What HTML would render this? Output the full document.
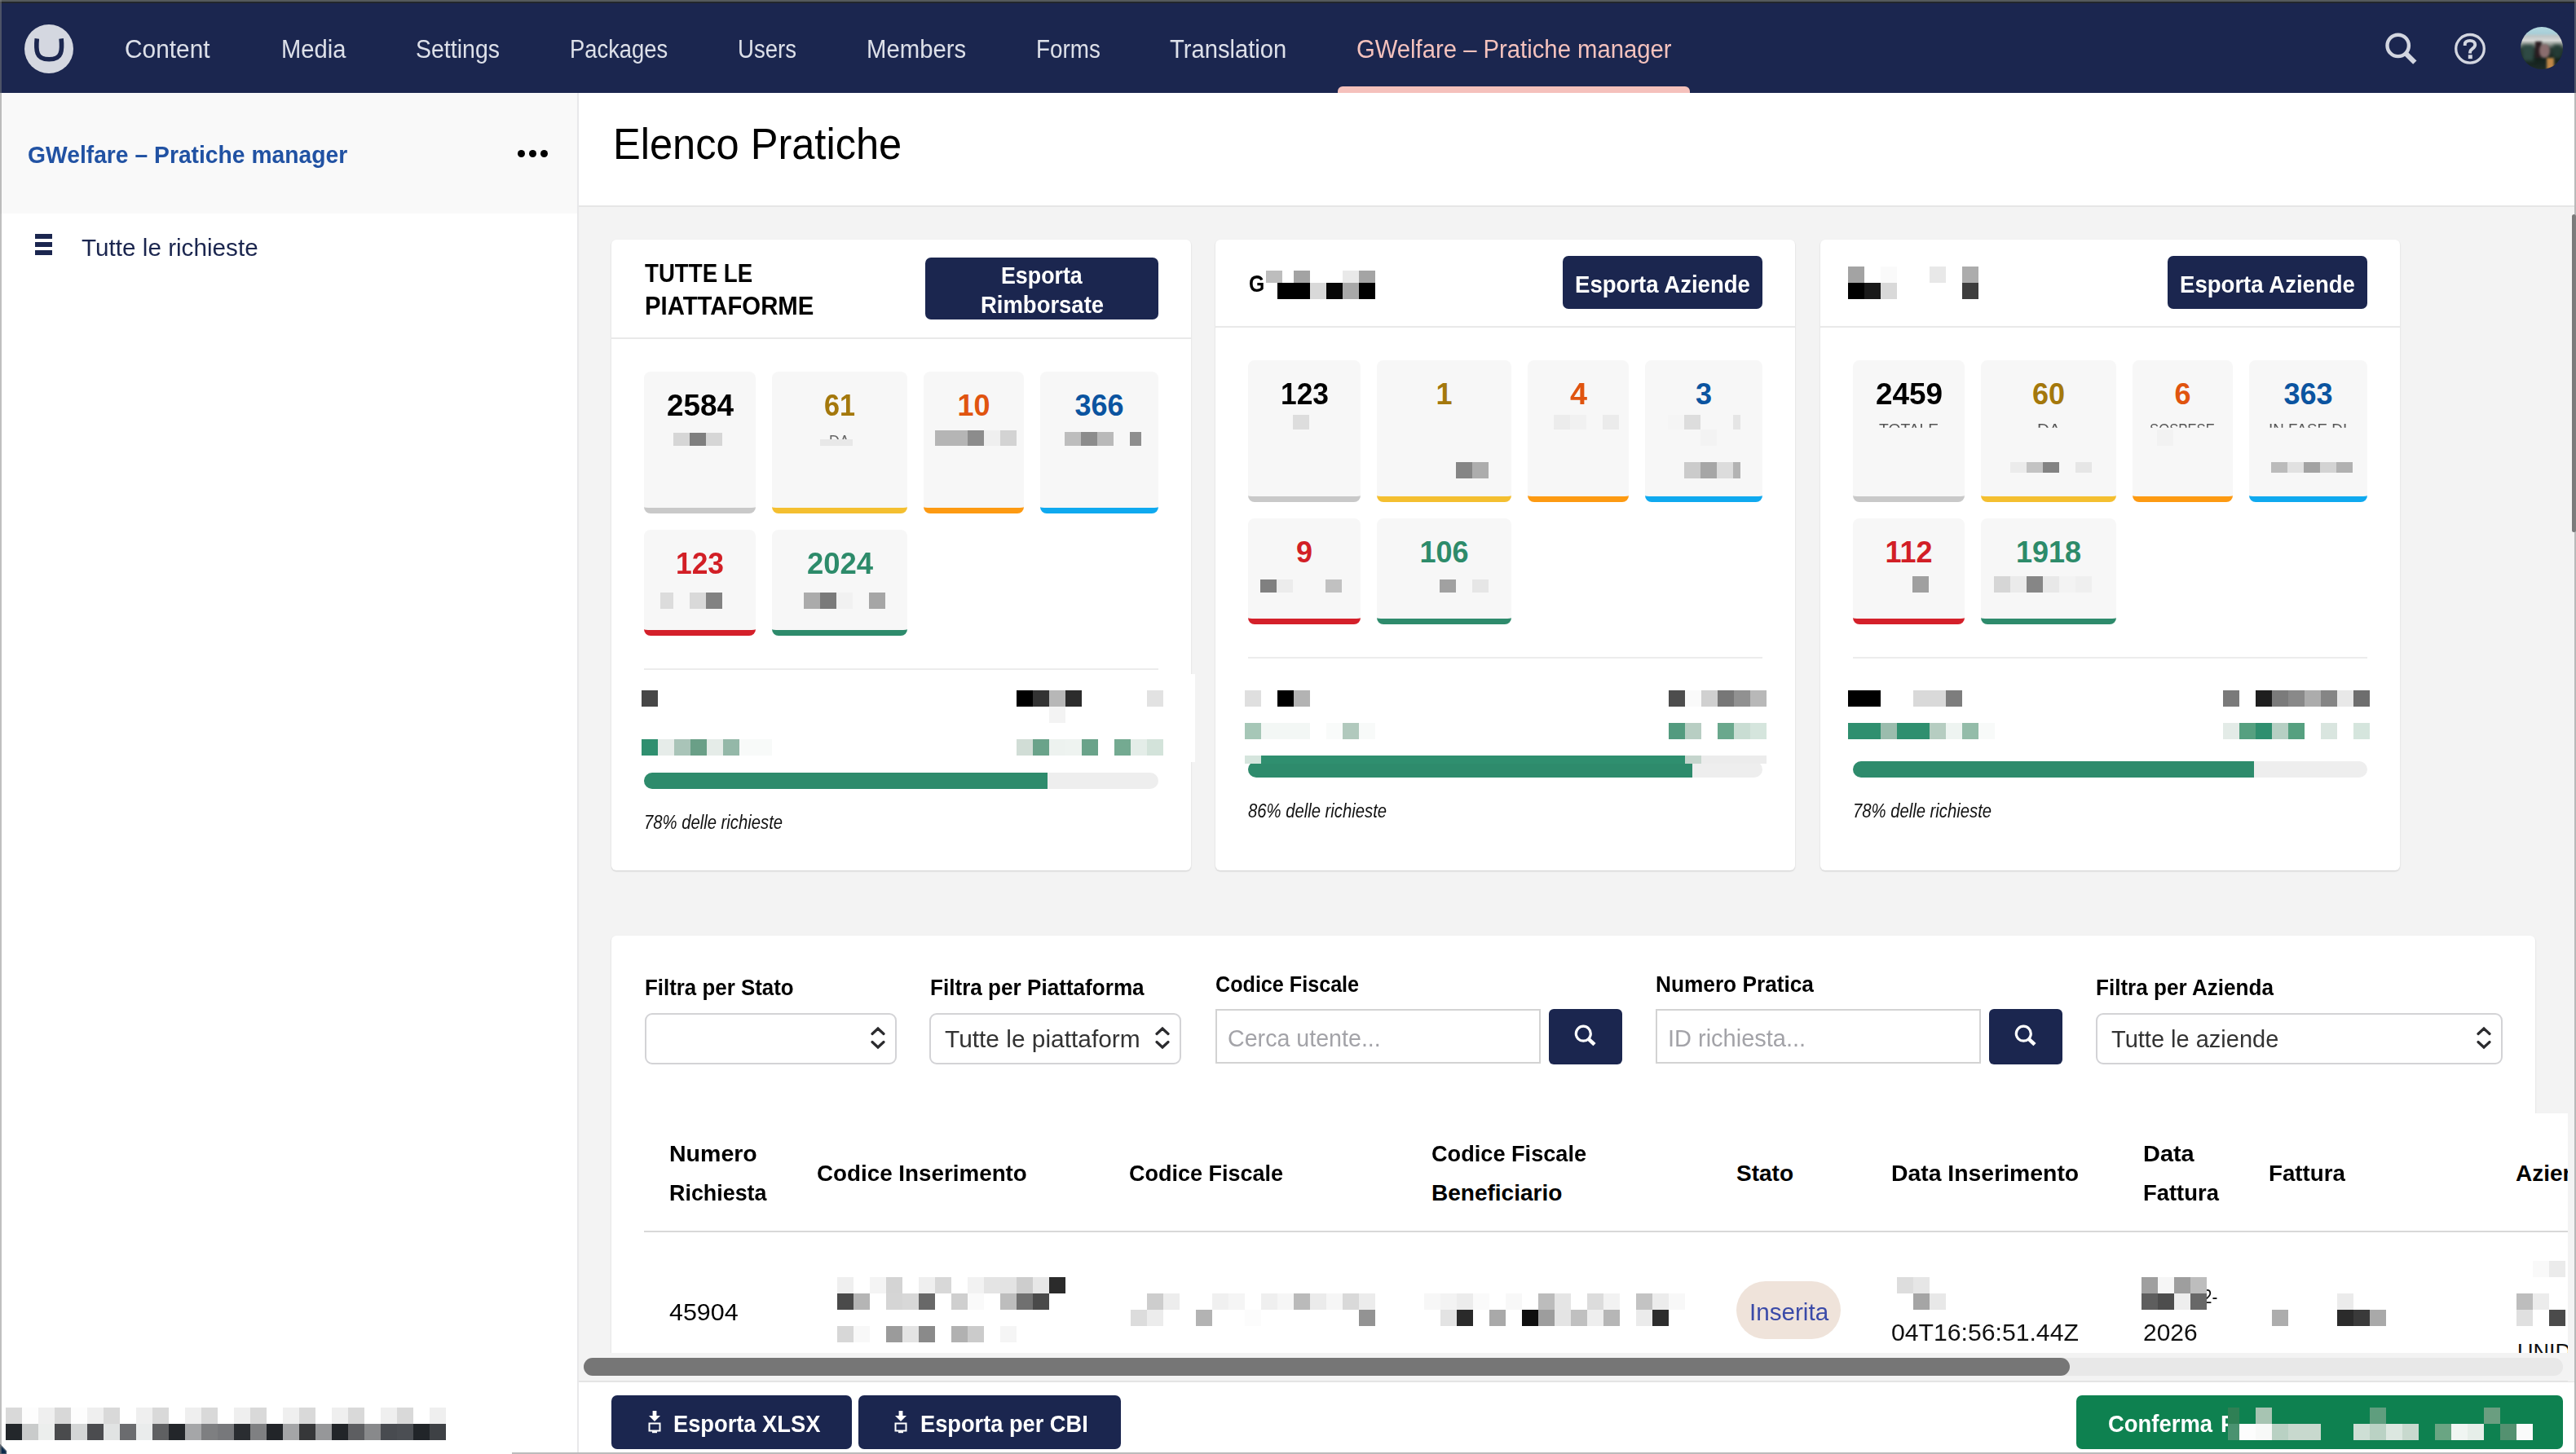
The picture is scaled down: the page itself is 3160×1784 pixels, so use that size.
<!DOCTYPE html>
<html><head><meta charset="utf-8"><title>Elenco Pratiche</title>
<style>
html,body{margin:0;padding:0;}
body{width:3160px;height:1784px;position:relative;overflow:hidden;background:#fff;font-family:"Liberation Sans", sans-serif;}
.a{position:absolute;}
.tx{white-space:nowrap;transform-origin:0 0;}
svg{display:block;}
</style></head><body>
<div class="a" style="left:0px;top:0px;width:3160px;height:114px;background:#1b264f;"></div>
<div class="a" style="left:0px;top:0px;width:3160px;height:2px;background:#555a5c;"></div>
<div class="a" style="left:0px;top:2px;width:3160px;height:2px;background:#23272c;"></div>
<div class="a" style="left:0px;top:114px;width:708px;height:1670px;background:#ffffff;"></div>
<div class="a" style="left:0px;top:114px;width:708px;height:148px;background:#f9f9f9;"></div>
<div class="a" style="left:708px;top:114px;width:2px;height:1670px;background:#e8e8ea;"></div>
<div class="a" style="left:710px;top:114px;width:2448px;height:138px;background:#ffffff;"></div>
<div class="a" style="left:710px;top:252px;width:2448px;height:2px;background:#e6e6e6;"></div>
<div class="a" style="left:710px;top:254px;width:2448px;height:1441px;background:#f3f3f3;"></div>
<div class="a" style="left:710px;top:1694px;width:2448px;height:2px;background:#e4e4e4;"></div>
<div class="a" style="left:710px;top:1696px;width:2448px;height:88px;background:#ffffff;"></div>
<svg class="a" style="left:30px;top:30px" width="60" height="60" viewBox="0 0 60 60"><circle cx="30" cy="30" r="30" fill="#d4d7e0"/><path d="M15.3 17.4 C14.6 24 14.4 31 16.2 35.6 C18 40.6 22.6 42.8 30.2 42.8 C37.8 42.8 42.4 40.6 44.2 35.6 C46 31 45.8 24 45.1 17.4" fill="none" stroke="#1b264f" stroke-width="5.6" stroke-linecap="butt"/></svg>
<span id="t1" class="a tx" style="left:153.0px;top:44.8px;font-size:31px;line-height:31px;font-weight:400;color:#dde0e9;transform:scaleX(0.9633);">Content</span>
<span id="t2" class="a tx" style="left:345.0px;top:44.8px;font-size:31px;line-height:31px;font-weight:400;color:#dde0e9;transform:scaleX(0.9405);">Media</span>
<span id="t3" class="a tx" style="left:510.0px;top:44.8px;font-size:31px;line-height:31px;font-weight:400;color:#dde0e9;transform:scaleX(0.9196);">Settings</span>
<span id="t4" class="a tx" style="left:699.0px;top:44.8px;font-size:31px;line-height:31px;font-weight:400;color:#dde0e9;transform:scaleX(0.8824);">Packages</span>
<span id="t5" class="a tx" style="left:905.0px;top:44.8px;font-size:31px;line-height:31px;font-weight:400;color:#dde0e9;transform:scaleX(0.8889);">Users</span>
<span id="t6" class="a tx" style="left:1063.0px;top:44.8px;font-size:31px;line-height:31px;font-weight:400;color:#dde0e9;transform:scaleX(0.9457);">Members</span>
<span id="t7" class="a tx" style="left:1271.0px;top:44.8px;font-size:31px;line-height:31px;font-weight:400;color:#dde0e9;transform:scaleX(0.8977);">Forms</span>
<span id="t8" class="a tx" style="left:1435.0px;top:44.8px;font-size:31px;line-height:31px;font-weight:400;color:#dde0e9;transform:scaleX(0.9408);">Translation</span>
<span id="t9" class="a tx" style="left:1664.0px;top:44.8px;font-size:31px;line-height:31px;font-weight:400;color:#f5c2bd;transform:scaleX(0.9439);">GWelfare – Pratiche manager</span>
<div class="a" style="left:1641px;top:106px;width:432px;height:8px;background:#f5c1bc;border-radius:6px 6px 0 0;"></div>
<svg class="a" style="left:2920px;top:36px" width="52" height="50" viewBox="0 0 52 50"><circle cx="21.7" cy="19.9" r="13.2" fill="none" stroke="#d3d6e0" stroke-width="4.4"/><path d="M30.2 28.6 L42.3 40.6" stroke="#d3d6e0" stroke-width="6.2" stroke-linecap="butt" stroke-linejoin="round"/></svg>
<svg class="a" style="left:3008px;top:38px" width="44" height="44" viewBox="0 0 44 44"><circle cx="22" cy="21.8" r="17.3" fill="none" stroke="#d3d6e0" stroke-width="3.3"/><path d="M15.75 18 L15.75 16.5 C15.75 13.5 18.2 11.85 22 11.85 C25.8 11.85 28.25 14 28.25 16.8 C28.25 19.6 26.4 20.8 24.6 22.1 C22.9 23.3 22.05 24.3 22.05 26 L22.05 27.4" fill="none" stroke="#d3d6e0" stroke-width="3.9"/><rect x="19.8" y="29.3" width="5" height="4.8" fill="#d3d6e0"/></svg>
<div class="a" style="left:3092px;top:33px;width:52px;height:52px;border-radius:50%;overflow:hidden;background:linear-gradient(180deg,#b3d8e0 0%,#a9cfd8 15%,#bfc6c6 22%,#d6d7d5 32%,#8d958f 42%,#2a3a35 52%,#13211c 75%,#1e2b27 100%)"><div style="position:absolute;left:2px;top:22px;width:14px;height:20px;background:#2f4a44;filter:blur(2px)"></div><div style="position:absolute;left:18px;top:18px;width:8px;height:20px;background:#2a1c20;filter:blur(1.5px)"></div><div style="position:absolute;left:23px;top:21px;width:13px;height:17px;border-radius:45%;background:#8a6d6e;filter:blur(1.5px)"></div><div style="position:absolute;left:40px;top:22px;width:10px;height:16px;background:#243c36;filter:blur(2px)"></div><div style="position:absolute;left:32px;top:38px;width:9px;height:15px;background:#c08848;filter:blur(1.5px)"></div></div>
<span id="t10" class="a tx" style="left:34.0px;top:174.6px;font-size:30px;line-height:30px;font-weight:700;color:#2152a3;transform:scaleX(0.9423);">GWelfare – Pratiche manager</span>
<div class="a" style="left:634.5px;top:184.2px;width:9px;height:9px;border-radius:50%;background:#000"></div>
<div class="a" style="left:648.5px;top:184.2px;width:9px;height:9px;border-radius:50%;background:#000"></div>
<div class="a" style="left:662.5px;top:184.2px;width:9px;height:9px;border-radius:50%;background:#000"></div>
<div class="a" style="left:43px;top:287px;width:21px;height:6px;background:#1b264f;"></div>
<div class="a" style="left:43px;top:297px;width:21px;height:6px;background:#1b264f;"></div>
<div class="a" style="left:43px;top:307px;width:21px;height:6px;background:#1b264f;"></div>
<span id="t11" class="a tx" style="left:100.0px;top:289.5px;font-size:29px;line-height:29px;font-weight:400;color:#1b264f;transform:scaleX(1.0236);">Tutte le richieste</span>
<span id="t12" class="a tx" style="left:752.0px;top:149.3px;font-size:54px;line-height:54px;font-weight:400;color:#000;transform:scaleX(0.9365);">Elenco Pratiche</span>
<div class="a" style="left:3155px;top:263px;width:5px;height:390px;background:#7a7a7a;border-radius:3px;"></div>
<div class="a" style="left:750px;top:294px;width:711px;height:774px;background:#fff;border-radius:6px;box-shadow:0 1px 2px rgba(0,0,0,0.16);"></div>
<div class="a" style="left:750px;top:414px;width:711px;height:2px;background:#e9e9e9;"></div>
<div class="a" style="left:790px;top:456px;width:137px;height:167px;background:#f7f7f7;border-bottom:7px solid #c9c9c9;border-radius:8px;"></div>
<div class="a" style="left:947px;top:456px;width:166px;height:167px;background:#f7f7f7;border-bottom:7px solid #f4bf30;border-radius:8px;"></div>
<div class="a" style="left:1133px;top:456px;width:123px;height:167px;background:#f7f7f7;border-bottom:7px solid #fd9a12;border-radius:8px;"></div>
<div class="a" style="left:1276px;top:456px;width:145px;height:167px;background:#f7f7f7;border-bottom:7px solid #0fa9ef;border-radius:8px;"></div>
<div class="a" style="left:790px;top:650px;width:137px;height:123px;background:#f7f7f7;border-bottom:7px solid #d4202a;border-radius:8px;"></div>
<div class="a" style="left:947px;top:650px;width:166px;height:123px;background:#f7f7f7;border-bottom:7px solid #2e8b6c;border-radius:8px;"></div>
<span id="t13" class="a tx" style="left:817.5px;top:479.5px;font-size:36px;line-height:36px;font-weight:700;color:#000000;transform:scaleX(1.0250);">2584</span>
<span id="t14" class="a tx" style="left:1011.0px;top:479.5px;font-size:36px;line-height:36px;font-weight:700;color:#a4780c;transform:scaleX(0.9500);">61</span>
<span id="t15" class="a tx" style="left:1174.5px;top:479.5px;font-size:36px;line-height:36px;font-weight:700;color:#e0540f;transform:scaleX(1.0000);">10</span>
<span id="t16" class="a tx" style="left:1318.5px;top:479.5px;font-size:36px;line-height:36px;font-weight:700;color:#0b54a0;transform:scaleX(1.0000);">366</span>
<span id="t17" class="a tx" style="left:829.0px;top:673.5px;font-size:36px;line-height:36px;font-weight:700;color:#d21f26;transform:scaleX(0.9833);">123</span>
<span id="t18" class="a tx" style="left:989.5px;top:673.5px;font-size:36px;line-height:36px;font-weight:700;color:#2d8b6a;transform:scaleX(1.0125);">2024</span>
<div class="a" style="left:790px;top:820px;width:631px;height:2px;background:#ececec;"></div>
<div class="a" style="left:790px;top:948px;width:631px;height:20px;border-radius:10px;background:#eeeeee;overflow:hidden"><div style="position:absolute;left:0;top:0;height:20px;width:495px;background:#2e8b6c"></div></div>
<span id="t19" class="a tx" style="left:790.0px;top:997.5px;font-size:23px;line-height:23px;font-weight:400;color:#111;font-style:italic;transform:scaleX(0.8808);">78% delle richieste</span>
<span id="t20" class="a tx" style="left:791.0px;top:319.8px;font-size:31px;line-height:31px;font-weight:700;color:#000;transform:scaleX(0.8919);">TUTTE LE</span>
<span id="t21" class="a tx" style="left:791.0px;top:359.8px;font-size:31px;line-height:31px;font-weight:700;color:#000;transform:scaleX(0.9452);">PIATTAFORME</span>
<div class="a" style="left:1135px;top:316px;width:286px;height:76px;background:#1b264f;border-radius:7px;"></div>
<span id="t22" class="a tx" style="left:1228.0px;top:322.6px;font-size:30px;line-height:30px;font-weight:700;color:#fff;transform:scaleX(0.8929);">Esporta</span>
<span id="t23" class="a tx" style="left:1202.5px;top:358.6px;font-size:30px;line-height:30px;font-weight:700;color:#fff;transform:scaleX(0.9152);">Rimborsate</span>
<div class="a" style="left:1491px;top:294px;width:711px;height:774px;background:#fff;border-radius:6px;box-shadow:0 1px 2px rgba(0,0,0,0.16);"></div>
<div class="a" style="left:1491px;top:400px;width:711px;height:2px;background:#e9e9e9;"></div>
<div class="a" style="left:1531px;top:442px;width:138px;height:167px;background:#f7f7f7;border-bottom:7px solid #c9c9c9;border-radius:8px;"></div>
<div class="a" style="left:1689px;top:442px;width:165px;height:167px;background:#f7f7f7;border-bottom:7px solid #f4bf30;border-radius:8px;"></div>
<div class="a" style="left:1874px;top:442px;width:124px;height:167px;background:#f7f7f7;border-bottom:7px solid #fd9a12;border-radius:8px;"></div>
<div class="a" style="left:2018px;top:442px;width:144px;height:167px;background:#f7f7f7;border-bottom:7px solid #0fa9ef;border-radius:8px;"></div>
<div class="a" style="left:1531px;top:636px;width:138px;height:123px;background:#f7f7f7;border-bottom:7px solid #d4202a;border-radius:8px;"></div>
<div class="a" style="left:1689px;top:636px;width:165px;height:123px;background:#f7f7f7;border-bottom:7px solid #2e8b6c;border-radius:8px;"></div>
<span id="t24" class="a tx" style="left:1570.5px;top:465.5px;font-size:36px;line-height:36px;font-weight:700;color:#000000;transform:scaleX(0.9833);">123</span>
<span id="t25" class="a tx" style="left:1761.5px;top:465.5px;font-size:36px;line-height:36px;font-weight:700;color:#a4780c;transform:scaleX(1.0000);">1</span>
<span id="t26" class="a tx" style="left:1925.5px;top:465.5px;font-size:36px;line-height:36px;font-weight:700;color:#e0540f;transform:scaleX(1.0500);">4</span>
<span id="t27" class="a tx" style="left:2080.0px;top:465.5px;font-size:36px;line-height:36px;font-weight:700;color:#0b54a0;transform:scaleX(1.0000);">3</span>
<span id="t28" class="a tx" style="left:1590.0px;top:659.5px;font-size:36px;line-height:36px;font-weight:700;color:#d21f26;transform:scaleX(1.0000);">9</span>
<span id="t29" class="a tx" style="left:1741.5px;top:659.5px;font-size:36px;line-height:36px;font-weight:700;color:#2d8b6a;transform:scaleX(1.0000);">106</span>
<div class="a" style="left:1531px;top:806px;width:631px;height:2px;background:#ececec;"></div>
<div class="a" style="left:1531px;top:934px;width:631px;height:20px;border-radius:10px;background:#eeeeee;overflow:hidden"><div style="position:absolute;left:0;top:0;height:20px;width:545px;background:#2e8b6c"></div></div>
<span id="t30" class="a tx" style="left:1531.0px;top:983.5px;font-size:23px;line-height:23px;font-weight:400;color:#111;font-style:italic;transform:scaleX(0.8808);">86% delle richieste</span>
<span id="t31" class="a tx" style="left:1532.0px;top:332.6px;font-size:30px;line-height:30px;font-weight:700;color:#000;transform:scaleX(0.8261);">G</span>
<div class="a" style="left:1917px;top:314px;width:245px;height:65px;background:#1b264f;border-radius:7px;"></div>
<span id="t32" class="a tx" style="left:1932.0px;top:333.6px;font-size:30px;line-height:30px;font-weight:700;color:#fff;transform:scaleX(0.9188);">Esporta Aziende</span>
<div class="a" style="left:2233px;top:294px;width:711px;height:774px;background:#fff;border-radius:6px;box-shadow:0 1px 2px rgba(0,0,0,0.16);"></div>
<div class="a" style="left:2233px;top:400px;width:711px;height:2px;background:#e9e9e9;"></div>
<div class="a" style="left:2273px;top:442px;width:137px;height:167px;background:#f7f7f7;border-bottom:7px solid #c9c9c9;border-radius:8px;"></div>
<div class="a" style="left:2430px;top:442px;width:166px;height:167px;background:#f7f7f7;border-bottom:7px solid #f4bf30;border-radius:8px;"></div>
<div class="a" style="left:2616px;top:442px;width:123px;height:167px;background:#f7f7f7;border-bottom:7px solid #fd9a12;border-radius:8px;"></div>
<div class="a" style="left:2759px;top:442px;width:145px;height:167px;background:#f7f7f7;border-bottom:7px solid #0fa9ef;border-radius:8px;"></div>
<div class="a" style="left:2273px;top:636px;width:137px;height:123px;background:#f7f7f7;border-bottom:7px solid #d4202a;border-radius:8px;"></div>
<div class="a" style="left:2430px;top:636px;width:166px;height:123px;background:#f7f7f7;border-bottom:7px solid #2e8b6c;border-radius:8px;"></div>
<span id="t33" class="a tx" style="left:2300.5px;top:465.5px;font-size:36px;line-height:36px;font-weight:700;color:#000000;transform:scaleX(1.0250);">2459</span>
<span id="t34" class="a tx" style="left:2493.0px;top:465.5px;font-size:36px;line-height:36px;font-weight:700;color:#a4780c;transform:scaleX(1.0000);">60</span>
<span id="t35" class="a tx" style="left:2667.5px;top:465.5px;font-size:36px;line-height:36px;font-weight:700;color:#e0540f;transform:scaleX(1.0000);">6</span>
<span id="t36" class="a tx" style="left:2801.5px;top:465.5px;font-size:36px;line-height:36px;font-weight:700;color:#0b54a0;transform:scaleX(1.0000);">363</span>
<span id="t37" class="a tx" style="left:2312.5px;top:659.5px;font-size:36px;line-height:36px;font-weight:700;color:#d21f26;transform:scaleX(1.0000);">112</span>
<span id="t38" class="a tx" style="left:2473.0px;top:659.5px;font-size:36px;line-height:36px;font-weight:700;color:#2d8b6a;transform:scaleX(1.0000);">1918</span>
<div class="a" style="left:2273px;top:806px;width:631px;height:2px;background:#ececec;"></div>
<div class="a" style="left:2273px;top:934px;width:631px;height:20px;border-radius:10px;background:#eeeeee;overflow:hidden"><div style="position:absolute;left:0;top:0;height:20px;width:492px;background:#2e8b6c"></div></div>
<span id="t39" class="a tx" style="left:2273.0px;top:983.5px;font-size:23px;line-height:23px;font-weight:400;color:#111;font-style:italic;transform:scaleX(0.8808);">78% delle richieste</span>
<div class="a" style="left:2659px;top:314px;width:245px;height:65px;background:#1b264f;border-radius:7px;"></div>
<span id="t40" class="a tx" style="left:2674.0px;top:333.6px;font-size:30px;line-height:30px;font-weight:700;color:#fff;transform:scaleX(0.9188);">Esporta Aziende</span>
<div class="a" style="left:1553px;top:332px;width:20px;height:15px;background:#bdbdbd;"></div>
<div class="a" style="left:1587px;top:332px;width:20px;height:15px;background:#a3a3a3;"></div>
<div class="a" style="left:1647px;top:332px;width:20px;height:15px;background:#e9e9e9;"></div>
<div class="a" style="left:1667px;top:332px;width:20px;height:15px;background:#a4a4a4;"></div>
<div class="a" style="left:1553px;top:332px;width:14px;height:15px;background:#bdbdbd;"></div>
<div class="a" style="left:1567px;top:347px;width:20px;height:20px;background:#000;"></div>
<div class="a" style="left:1587px;top:347px;width:20px;height:20px;background:#000;"></div>
<div class="a" style="left:1607px;top:347px;width:20px;height:20px;background:#d9d9d9;"></div>
<div class="a" style="left:1627px;top:347px;width:20px;height:20px;background:#070707;"></div>
<div class="a" style="left:1647px;top:347px;width:20px;height:20px;background:#a8a8a8;"></div>
<div class="a" style="left:1667px;top:347px;width:20px;height:20px;background:#000;"></div>
<div class="a" style="left:2267px;top:327px;width:20px;height:20px;background:#a3a3a3;"></div>
<div class="a" style="left:2307px;top:327px;width:20px;height:20px;background:#fafafa;"></div>
<div class="a" style="left:2367px;top:327px;width:20px;height:20px;background:#e8e8e8;"></div>
<div class="a" style="left:2407px;top:327px;width:20px;height:20px;background:#acacac;"></div>
<div class="a" style="left:2267px;top:347px;width:20px;height:20px;background:#000;"></div>
<div class="a" style="left:2287px;top:347px;width:20px;height:20px;background:#191919;"></div>
<div class="a" style="left:2307px;top:347px;width:20px;height:20px;background:#d9d9d9;"></div>
<div class="a" style="left:2407px;top:347px;width:20px;height:20px;background:#3d3d3d;"></div>
<div class="a" style="left:826px;top:531px;width:20px;height:16px;background:#d6d6d6;"></div>
<div class="a" style="left:846px;top:531px;width:20px;height:16px;background:#7f7f7f;"></div>
<div class="a" style="left:866px;top:531px;width:20px;height:16px;background:#d6d6d6;"></div>
<span id="t41" class="a tx" style="left:1017.0px;top:531.1px;font-size:20px;line-height:20px;font-weight:400;color:#666;transform:scaleX(0.8929);clip-path:inset(0 0 60% 0);">DA</span>
<div class="a" style="left:1006px;top:539px;width:20px;height:8px;background:#e8e8e8;"></div>
<div class="a" style="left:1026px;top:539px;width:20px;height:8px;background:#e8e8e8;"></div>
<div class="a" style="left:1147px;top:528px;width:20px;height:19px;background:#b5b5b5;"></div>
<div class="a" style="left:1167px;top:528px;width:20px;height:19px;background:#b5b5b5;"></div>
<div class="a" style="left:1187px;top:528px;width:20px;height:19px;background:#8c8c8c;"></div>
<div class="a" style="left:1207px;top:528px;width:20px;height:19px;background:#efefef;"></div>
<div class="a" style="left:1227px;top:528px;width:20px;height:19px;background:#d3d3d3;"></div>
<div class="a" style="left:1306px;top:530px;width:20px;height:17px;background:#bdbdbd;"></div>
<div class="a" style="left:1326px;top:530px;width:20px;height:17px;background:#8c8c8c;"></div>
<div class="a" style="left:1346px;top:530px;width:20px;height:17px;background:#b9b9b9;"></div>
<div class="a" style="left:1386px;top:530px;width:14px;height:17px;background:#8e8e8e;"></div>
<div class="a" style="left:846px;top:727px;width:20px;height:20px;background:#d9d9d9;"></div>
<div class="a" style="left:866px;top:727px;width:20px;height:20px;background:#828282;"></div>
<div class="a" style="left:810px;top:727px;width:16px;height:20px;background:#dcdcdc;"></div>
<div class="a" style="left:986px;top:727px;width:20px;height:20px;background:#ababab;"></div>
<div class="a" style="left:1006px;top:727px;width:20px;height:20px;background:#7a7a7a;"></div>
<div class="a" style="left:1026px;top:727px;width:20px;height:20px;background:#f1f1f1;"></div>
<div class="a" style="left:1066px;top:727px;width:20px;height:20px;background:#a6a6a6;"></div>
<div class="a" style="left:1586px;top:509px;width:20px;height:18px;background:#dddddd;"></div>
<div class="a" style="left:1906px;top:509px;width:20px;height:18px;background:#ececec;"></div>
<div class="a" style="left:1926px;top:509px;width:20px;height:18px;background:#f1f1f1;"></div>
<div class="a" style="left:1966px;top:509px;width:20px;height:18px;background:#ebebeb;"></div>
<div class="a" style="left:2046px;top:509px;width:20px;height:18px;background:#f5f5f5;"></div>
<div class="a" style="left:2066px;top:509px;width:20px;height:18px;background:#dddddd;"></div>
<div class="a" style="left:2126px;top:509px;width:9px;height:18px;background:#e5e5e5;"></div>
<div class="a" style="left:2086px;top:527px;width:20px;height:20px;background:#f3f3f3;"></div>
<div class="a" style="left:1786px;top:567px;width:20px;height:20px;background:#868686;"></div>
<div class="a" style="left:1806px;top:567px;width:20px;height:20px;background:#adadad;"></div>
<div class="a" style="left:2066px;top:567px;width:20px;height:20px;background:#cbcbcb;"></div>
<div class="a" style="left:2086px;top:567px;width:20px;height:20px;background:#a6a6a6;"></div>
<div class="a" style="left:2106px;top:567px;width:20px;height:20px;background:#dcdcdc;"></div>
<div class="a" style="left:2126px;top:567px;width:9px;height:20px;background:#b3b3b3;"></div>
<div class="a" style="left:1546px;top:711px;width:20px;height:16px;background:#808080;"></div>
<div class="a" style="left:1566px;top:711px;width:20px;height:16px;background:#ececec;"></div>
<div class="a" style="left:1626px;top:711px;width:20px;height:16px;background:#c1c1c1;"></div>
<div class="a" style="left:1766px;top:711px;width:20px;height:16px;background:#a1a1a1;"></div>
<div class="a" style="left:1806px;top:711px;width:20px;height:16px;background:#e6e6e6;"></div>
<span id="t42" class="a tx" style="left:2304.5px;top:516.9px;font-size:19px;line-height:19px;font-weight:400;color:#555;transform:scaleX(1.0139);clip-path:inset(0 0 58% 0);">TOTALE</span>
<span id="t43" class="a tx" style="left:2499.0px;top:516.9px;font-size:19px;line-height:19px;font-weight:400;color:#555;transform:scaleX(1.0769);clip-path:inset(0 0 58% 0);">DA</span>
<span id="t44" class="a tx" style="left:2637.0px;top:516.9px;font-size:19px;line-height:19px;font-weight:400;color:#555;transform:scaleX(0.8791);clip-path:inset(0 0 58% 0);">SOSPESE</span>
<span id="t45" class="a tx" style="left:2783.0px;top:516.9px;font-size:19px;line-height:19px;font-weight:400;color:#555;transform:scaleX(0.9897);clip-path:inset(0 0 58% 0);">IN FASE DI</span>
<div class="a" style="left:2466px;top:567px;width:20px;height:13px;background:#ebebeb;"></div>
<div class="a" style="left:2486px;top:567px;width:20px;height:13px;background:#c3c3c3;"></div>
<div class="a" style="left:2506px;top:567px;width:20px;height:13px;background:#838383;"></div>
<div class="a" style="left:2546px;top:567px;width:20px;height:13px;background:#e6e6e6;"></div>
<div class="a" style="left:2786px;top:567px;width:20px;height:13px;background:#bbbbbb;"></div>
<div class="a" style="left:2806px;top:567px;width:20px;height:13px;background:#e1e1e1;"></div>
<div class="a" style="left:2826px;top:567px;width:20px;height:13px;background:#a3a3a3;"></div>
<div class="a" style="left:2846px;top:567px;width:20px;height:13px;background:#d3d3d3;"></div>
<div class="a" style="left:2866px;top:567px;width:20px;height:13px;background:#b1b1b1;"></div>
<div class="a" style="left:2646px;top:527px;width:20px;height:20px;background:#f2f2f2;"></div>
<div class="a" style="left:2346px;top:707px;width:20px;height:20px;background:#a0a0a0;"></div>
<div class="a" style="left:2446px;top:707px;width:20px;height:20px;background:#d6d6d6;"></div>
<div class="a" style="left:2466px;top:707px;width:20px;height:20px;background:#ebebeb;"></div>
<div class="a" style="left:2486px;top:707px;width:20px;height:20px;background:#868686;"></div>
<div class="a" style="left:2506px;top:707px;width:20px;height:20px;background:#e8e8e8;"></div>
<div class="a" style="left:2526px;top:707px;width:20px;height:20px;background:#f3f3f3;"></div>
<div class="a" style="left:2546px;top:707px;width:20px;height:20px;background:#efefef;"></div>
<div class="a" style="left:787px;top:847px;width:20px;height:20px;background:#464646;"></div>
<div class="a" style="left:1247px;top:847px;width:20px;height:20px;background:#000;"></div>
<div class="a" style="left:1267px;top:847px;width:20px;height:20px;background:#333333;"></div>
<div class="a" style="left:1287px;top:847px;width:20px;height:20px;background:#b7b7b7;"></div>
<div class="a" style="left:1307px;top:847px;width:20px;height:20px;background:#2c2c2c;"></div>
<div class="a" style="left:1407px;top:847px;width:20px;height:20px;background:#e2e2e2;"></div>
<div class="a" style="left:1287px;top:867px;width:20px;height:20px;background:#f3f3f3;"></div>
<div class="a" style="left:787px;top:907px;width:20px;height:20px;background:#2f8f6f;"></div>
<div class="a" style="left:807px;top:907px;width:20px;height:20px;background:#e6ece9;"></div>
<div class="a" style="left:827px;top:907px;width:20px;height:20px;background:#a9c4b8;"></div>
<div class="a" style="left:847px;top:907px;width:20px;height:20px;background:#6a9f87;"></div>
<div class="a" style="left:867px;top:907px;width:20px;height:20px;background:#e5ece8;"></div>
<div class="a" style="left:887px;top:907px;width:20px;height:20px;background:#94b8a8;"></div>
<div class="a" style="left:907px;top:907px;width:20px;height:20px;background:#f8faf9;"></div>
<div class="a" style="left:927px;top:907px;width:20px;height:20px;background:#f8faf9;"></div>
<div class="a" style="left:1247px;top:907px;width:20px;height:20px;background:#d1ddd6;"></div>
<div class="a" style="left:1267px;top:907px;width:20px;height:20px;background:#6aa38a;"></div>
<div class="a" style="left:1287px;top:907px;width:20px;height:20px;background:#edf2ef;"></div>
<div class="a" style="left:1307px;top:907px;width:20px;height:20px;background:#eef3f0;"></div>
<div class="a" style="left:1327px;top:907px;width:20px;height:20px;background:#6aa38a;"></div>
<div class="a" style="left:1367px;top:907px;width:20px;height:20px;background:#74aa91;"></div>
<div class="a" style="left:1387px;top:907px;width:20px;height:20px;background:#e4ede8;"></div>
<div class="a" style="left:1407px;top:907px;width:20px;height:20px;background:#d3e3da;"></div>
<div class="a" style="left:1461px;top:827px;width:5px;height:108px;background:#ffffff;"></div>
<div class="a" style="left:1527px;top:847px;width:20px;height:20px;background:#dfdfdf;"></div>
<div class="a" style="left:1567px;top:847px;width:20px;height:20px;background:#000;"></div>
<div class="a" style="left:1587px;top:847px;width:20px;height:20px;background:#b3b3b3;"></div>
<div class="a" style="left:2047px;top:847px;width:20px;height:20px;background:#4d4d4d;"></div>
<div class="a" style="left:2067px;top:847px;width:20px;height:20px;background:#fafafa;"></div>
<div class="a" style="left:2087px;top:847px;width:20px;height:20px;background:#d0d0d0;"></div>
<div class="a" style="left:2107px;top:847px;width:20px;height:20px;background:#777777;"></div>
<div class="a" style="left:2127px;top:847px;width:20px;height:20px;background:#919191;"></div>
<div class="a" style="left:2147px;top:847px;width:20px;height:20px;background:#b8b8b8;"></div>
<div class="a" style="left:1527px;top:887px;width:20px;height:20px;background:#a6c7b7;"></div>
<div class="a" style="left:1547px;top:887px;width:20px;height:20px;background:#f3f7f5;"></div>
<div class="a" style="left:1567px;top:887px;width:20px;height:20px;background:#f3f7f5;"></div>
<div class="a" style="left:1587px;top:887px;width:20px;height:20px;background:#f3f7f5;"></div>
<div class="a" style="left:1627px;top:887px;width:20px;height:20px;background:#f9fbfa;"></div>
<div class="a" style="left:1647px;top:887px;width:20px;height:20px;background:#b1c9bd;"></div>
<div class="a" style="left:1667px;top:887px;width:20px;height:20px;background:#f8faf9;"></div>
<div class="a" style="left:2047px;top:887px;width:20px;height:20px;background:#539b7f;"></div>
<div class="a" style="left:2067px;top:887px;width:20px;height:20px;background:#b8cec3;"></div>
<div class="a" style="left:2107px;top:887px;width:20px;height:20px;background:#6aa88d;"></div>
<div class="a" style="left:2127px;top:887px;width:20px;height:20px;background:#c9ddd3;"></div>
<div class="a" style="left:2147px;top:887px;width:20px;height:20px;background:#d5e5dd;"></div>
<div class="a" style="left:1527px;top:927px;width:20px;height:10px;background:#d5e5dd;"></div>
<div class="a" style="left:1547px;top:927px;width:520px;height:10px;background:#2f8f6f;"></div>
<div class="a" style="left:2067px;top:927px;width:20px;height:10px;background:#c5d5cd;"></div>
<div class="a" style="left:2087px;top:927px;width:80px;height:10px;background:#ececec;"></div>
<div class="a" style="left:2267px;top:847px;width:20px;height:20px;background:#000;"></div>
<div class="a" style="left:2287px;top:847px;width:20px;height:20px;background:#000;"></div>
<div class="a" style="left:2347px;top:847px;width:20px;height:20px;background:#d9d9d9;"></div>
<div class="a" style="left:2367px;top:847px;width:20px;height:20px;background:#d9d9d9;"></div>
<div class="a" style="left:2387px;top:847px;width:20px;height:20px;background:#7d7d7d;"></div>
<div class="a" style="left:2727px;top:847px;width:20px;height:20px;background:#7a7a7a;"></div>
<div class="a" style="left:2767px;top:847px;width:20px;height:20px;background:#1e1e1e;"></div>
<div class="a" style="left:2787px;top:847px;width:20px;height:20px;background:#7b7b7b;"></div>
<div class="a" style="left:2807px;top:847px;width:20px;height:20px;background:#898989;"></div>
<div class="a" style="left:2827px;top:847px;width:20px;height:20px;background:#acacac;"></div>
<div class="a" style="left:2847px;top:847px;width:20px;height:20px;background:#858585;"></div>
<div class="a" style="left:2867px;top:847px;width:20px;height:20px;background:#e8e8e8;"></div>
<div class="a" style="left:2887px;top:847px;width:20px;height:20px;background:#6e6e6e;"></div>
<div class="a" style="left:2267px;top:887px;width:20px;height:20px;background:#2f8f6f;"></div>
<div class="a" style="left:2287px;top:887px;width:20px;height:20px;background:#2f8f6f;"></div>
<div class="a" style="left:2307px;top:887px;width:20px;height:20px;background:#9bbcad;"></div>
<div class="a" style="left:2327px;top:887px;width:20px;height:20px;background:#2f8f6f;"></div>
<div class="a" style="left:2347px;top:887px;width:20px;height:20px;background:#2f8f6f;"></div>
<div class="a" style="left:2367px;top:887px;width:20px;height:20px;background:#b6cdc1;"></div>
<div class="a" style="left:2387px;top:887px;width:20px;height:20px;background:#eef4f1;"></div>
<div class="a" style="left:2407px;top:887px;width:20px;height:20px;background:#94bca9;"></div>
<div class="a" style="left:2427px;top:887px;width:20px;height:20px;background:#f8faf9;"></div>
<div class="a" style="left:2727px;top:887px;width:20px;height:20px;background:#e3ebe7;"></div>
<div class="a" style="left:2747px;top:887px;width:20px;height:20px;background:#56a080;"></div>
<div class="a" style="left:2767px;top:887px;width:20px;height:20px;background:#2f8f6f;"></div>
<div class="a" style="left:2787px;top:887px;width:20px;height:20px;background:#b6cfc3;"></div>
<div class="a" style="left:2807px;top:887px;width:20px;height:20px;background:#56a080;"></div>
<div class="a" style="left:2847px;top:887px;width:20px;height:20px;background:#d9e5df;"></div>
<div class="a" style="left:2887px;top:887px;width:20px;height:20px;background:#d5e5dd;"></div>
<div class="a" style="left:7px;top:1727px;width:20px;height:20px;background:#d9d9d9;"></div>
<div class="a" style="left:27px;top:1727px;width:20px;height:20px;background:#fdfdfd;"></div>
<div class="a" style="left:47px;top:1727px;width:20px;height:20px;background:#efefef;"></div>
<div class="a" style="left:67px;top:1727px;width:20px;height:20px;background:#d8d8d8;"></div>
<div class="a" style="left:87px;top:1727px;width:20px;height:20px;background:#fdfdfd;"></div>
<div class="a" style="left:107px;top:1727px;width:20px;height:20px;background:#efefef;"></div>
<div class="a" style="left:127px;top:1727px;width:20px;height:20px;background:#d9d9d9;"></div>
<div class="a" style="left:147px;top:1727px;width:20px;height:20px;background:#ffffff;"></div>
<div class="a" style="left:167px;top:1727px;width:20px;height:20px;background:#efefef;"></div>
<div class="a" style="left:187px;top:1727px;width:20px;height:20px;background:#d9d9d9;"></div>
<div class="a" style="left:207px;top:1727px;width:20px;height:20px;background:#ffffff;"></div>
<div class="a" style="left:227px;top:1727px;width:20px;height:20px;background:#efefef;"></div>
<div class="a" style="left:247px;top:1727px;width:20px;height:20px;background:#d9d9d9;"></div>
<div class="a" style="left:267px;top:1727px;width:20px;height:20px;background:#ffffff;"></div>
<div class="a" style="left:287px;top:1727px;width:20px;height:20px;background:#efefef;"></div>
<div class="a" style="left:307px;top:1727px;width:20px;height:20px;background:#d9d9d9;"></div>
<div class="a" style="left:327px;top:1727px;width:20px;height:20px;background:#ffffff;"></div>
<div class="a" style="left:347px;top:1727px;width:20px;height:20px;background:#efefef;"></div>
<div class="a" style="left:367px;top:1727px;width:20px;height:20px;background:#d9d9d9;"></div>
<div class="a" style="left:387px;top:1727px;width:20px;height:20px;background:#ffffff;"></div>
<div class="a" style="left:407px;top:1727px;width:20px;height:20px;background:#efefef;"></div>
<div class="a" style="left:427px;top:1727px;width:20px;height:20px;background:#d9d9d9;"></div>
<div class="a" style="left:447px;top:1727px;width:20px;height:20px;background:#ffffff;"></div>
<div class="a" style="left:467px;top:1727px;width:20px;height:20px;background:#efefef;"></div>
<div class="a" style="left:487px;top:1727px;width:20px;height:20px;background:#d9d9d9;"></div>
<div class="a" style="left:507px;top:1727px;width:20px;height:20px;background:#ffffff;"></div>
<div class="a" style="left:527px;top:1727px;width:20px;height:20px;background:#efefef;"></div>
<div class="a" style="left:7px;top:1747px;width:20px;height:20px;background:#23272b;"></div>
<div class="a" style="left:27px;top:1747px;width:20px;height:20px;background:#c9cbcb;"></div>
<div class="a" style="left:47px;top:1747px;width:20px;height:20px;background:#eceeed;"></div>
<div class="a" style="left:67px;top:1747px;width:20px;height:20px;background:#4a4b4d;"></div>
<div class="a" style="left:87px;top:1747px;width:20px;height:20px;background:#d4d6d6;"></div>
<div class="a" style="left:107px;top:1747px;width:20px;height:20px;background:#4b4c4f;"></div>
<div class="a" style="left:127px;top:1747px;width:20px;height:20px;background:#e1e3e3;"></div>
<div class="a" style="left:147px;top:1747px;width:20px;height:20px;background:#6b6c6f;"></div>
<div class="a" style="left:167px;top:1747px;width:20px;height:20px;background:#eaecec;"></div>
<div class="a" style="left:187px;top:1747px;width:20px;height:20px;background:#5f6062;"></div>
<div class="a" style="left:207px;top:1747px;width:20px;height:20px;background:#23262a;"></div>
<div class="a" style="left:227px;top:1747px;width:20px;height:20px;background:#a5a6a8;"></div>
<div class="a" style="left:247px;top:1747px;width:20px;height:20px;background:#7e7f81;"></div>
<div class="a" style="left:267px;top:1747px;width:20px;height:20px;background:#77787b;"></div>
<div class="a" style="left:287px;top:1747px;width:20px;height:20px;background:#2a2d31;"></div>
<div class="a" style="left:307px;top:1747px;width:20px;height:20px;background:#7f8082;"></div>
<div class="a" style="left:327px;top:1747px;width:20px;height:20px;background:#222529;"></div>
<div class="a" style="left:347px;top:1747px;width:20px;height:20px;background:#a4a5a7;"></div>
<div class="a" style="left:367px;top:1747px;width:20px;height:20px;background:#363739;"></div>
<div class="a" style="left:387px;top:1747px;width:20px;height:20px;background:#969799;"></div>
<div class="a" style="left:407px;top:1747px;width:20px;height:20px;background:#222529;"></div>
<div class="a" style="left:427px;top:1747px;width:20px;height:20px;background:#5d5e61;"></div>
<div class="a" style="left:447px;top:1747px;width:20px;height:20px;background:#88898b;"></div>
<div class="a" style="left:467px;top:1747px;width:20px;height:20px;background:#484b50;"></div>
<div class="a" style="left:487px;top:1747px;width:20px;height:20px;background:#4b4e53;"></div>
<div class="a" style="left:507px;top:1747px;width:20px;height:20px;background:#212529;"></div>
<div class="a" style="left:527px;top:1747px;width:20px;height:20px;background:#3e4145;"></div>
<div class="a" style="left:750px;top:1148px;width:2360px;height:512px;background:#fff;border-radius:6px 6px 0 0;box-shadow:0 1px 2px rgba(0,0,0,0.16);"></div>
<div class="a" style="left:750px;top:1366px;width:2400px;height:294px;background:#ffffff;"></div>
<span id="t46" class="a tx" style="left:791.0px;top:1198.3px;font-size:28px;line-height:28px;font-weight:700;color:#000;transform:scaleX(0.9242);">Filtra per Stato</span>
<span id="t47" class="a tx" style="left:1141.0px;top:1198.3px;font-size:28px;line-height:28px;font-weight:700;color:#000;transform:scaleX(0.9326);">Filtra per Piattaforma</span>
<span id="t48" class="a tx" style="left:1491.0px;top:1194.3px;font-size:28px;line-height:28px;font-weight:700;color:#000;transform:scaleX(0.8980);">Codice Fiscale</span>
<span id="t49" class="a tx" style="left:2031.0px;top:1194.3px;font-size:28px;line-height:28px;font-weight:700;color:#000;transform:scaleX(0.9372);">Numero Pratica</span>
<span id="t50" class="a tx" style="left:2571.0px;top:1198.3px;font-size:28px;line-height:28px;font-weight:700;color:#000;transform:scaleX(0.9316);">Filtra per Azienda</span>
<div class="a" style="left:791px;top:1243px;width:305px;height:59px;border:2px solid #d3d3d6;border-radius:9px;background:#fff"></div>
<svg class="a" style="left:1067px;top:1259px" width="20" height="30" viewBox="0 0 20 30"><path d="M3 9.5 L10 3 L17 9.5 M3 19.5 L10 26 L17 19.5" fill="none" stroke="#2b2b2e" stroke-width="3.2" stroke-linecap="round" stroke-linejoin="miter"/></svg>
<div class="a" style="left:1140px;top:1243px;width:305px;height:59px;border:2px solid #d3d3d6;border-radius:9px;background:#fff"></div>
<svg class="a" style="left:1416px;top:1259px" width="20" height="30" viewBox="0 0 20 30"><path d="M3 9.5 L10 3 L17 9.5 M3 19.5 L10 26 L17 19.5" fill="none" stroke="#2b2b2e" stroke-width="3.2" stroke-linecap="round" stroke-linejoin="miter"/></svg>
<span id="t51" class="a tx" style="left:1159.0px;top:1259.6px;font-size:30px;line-height:30px;font-weight:400;color:#333;transform:scaleX(0.9959);">Tutte le piattaform</span>
<div class="a" style="left:1400px;top:1250px;width:12px;height:46px;background:linear-gradient(90deg,rgba(255,255,255,0),#fff);"></div>
<div class="a" style="left:2571px;top:1243px;width:495px;height:59px;border:2px solid #d3d3d6;border-radius:9px;background:#fff"></div>
<svg class="a" style="left:3037px;top:1259px" width="20" height="30" viewBox="0 0 20 30"><path d="M3 9.5 L10 3 L17 9.5 M3 19.5 L10 26 L17 19.5" fill="none" stroke="#2b2b2e" stroke-width="3.2" stroke-linecap="round" stroke-linejoin="miter"/></svg>
<span id="t52" class="a tx" style="left:2590.0px;top:1259.6px;font-size:30px;line-height:30px;font-weight:400;color:#333;transform:scaleX(0.9670);">Tutte le aziende</span>
<div class="a" style="left:1491px;top:1238px;width:395px;height:63px;border:2px solid #d3d3d3;background:#fff"></div>
<span id="t53" class="a tx" style="left:1506.0px;top:1258.6px;font-size:30px;line-height:30px;font-weight:400;color:#a3a3a8;transform:scaleX(0.9543);">Cerca utente...</span>
<div class="a" style="left:1900px;top:1238px;width:90px;height:68px;background:#1b264f;border-radius:6px;"></div>
<svg class="a" style="left:1925px;top:1250px" width="40" height="40" viewBox="0 0 40 40"><circle cx="17.3" cy="18.2" r="9" fill="none" stroke="#fff" stroke-width="3.2"/><path d="M23.5 24.6 L31 31.6" stroke="#fff" stroke-width="4.6" stroke-linecap="butt"/></svg>
<div class="a" style="left:2031px;top:1238px;width:395px;height:63px;border:2px solid #d3d3d3;background:#fff"></div>
<span id="t54" class="a tx" style="left:2046.0px;top:1258.6px;font-size:30px;line-height:30px;font-weight:400;color:#a3a3a8;transform:scaleX(0.9657);">ID richiesta...</span>
<div class="a" style="left:2440px;top:1238px;width:90px;height:68px;background:#1b264f;border-radius:6px;"></div>
<svg class="a" style="left:2465px;top:1250px" width="40" height="40" viewBox="0 0 40 40"><circle cx="17.3" cy="18.2" r="9" fill="none" stroke="#fff" stroke-width="3.2"/><path d="M23.5 24.6 L31 31.6" stroke="#fff" stroke-width="4.6" stroke-linecap="butt"/></svg>
<span id="t55" class="a tx" style="left:821.0px;top:1402.3px;font-size:28px;line-height:28px;font-weight:700;color:#000;transform:scaleX(1.0189);">Numero</span>
<span id="t56" class="a tx" style="left:821.0px;top:1450.3px;font-size:28px;line-height:28px;font-weight:700;color:#000;transform:scaleX(0.9600);">Richiesta</span>
<span id="t57" class="a tx" style="left:1002.0px;top:1426.3px;font-size:28px;line-height:28px;font-weight:700;color:#000;transform:scaleX(0.9923);">Codice Inserimento</span>
<span id="t58" class="a tx" style="left:1385.0px;top:1426.3px;font-size:28px;line-height:28px;font-weight:700;color:#000;transform:scaleX(0.9643);">Codice Fiscale</span>
<span id="t59" class="a tx" style="left:1756.0px;top:1402.3px;font-size:28px;line-height:28px;font-weight:700;color:#000;transform:scaleX(0.9694);">Codice Fiscale</span>
<span id="t60" class="a tx" style="left:1756.0px;top:1450.3px;font-size:28px;line-height:28px;font-weight:700;color:#000;transform:scaleX(1.0000);">Beneficiario</span>
<span id="t61" class="a tx" style="left:2130.0px;top:1426.3px;font-size:28px;line-height:28px;font-weight:700;color:#000;transform:scaleX(1.0000);">Stato</span>
<span id="t62" class="a tx" style="left:2320.0px;top:1426.3px;font-size:28px;line-height:28px;font-weight:700;color:#000;transform:scaleX(1.0132);">Data Inserimento</span>
<span id="t63" class="a tx" style="left:2629.0px;top:1402.3px;font-size:28px;line-height:28px;font-weight:700;color:#000;transform:scaleX(1.0328);">Data</span>
<span id="t64" class="a tx" style="left:2629.0px;top:1450.3px;font-size:28px;line-height:28px;font-weight:700;color:#000;transform:scaleX(0.9789);">Fattura</span>
<span id="t65" class="a tx" style="left:2783.0px;top:1426.3px;font-size:28px;line-height:28px;font-weight:700;color:#000;transform:scaleX(0.9895);">Fattura</span>
<div class="a" style="left:3086px;top:1400px;width:64px;height:70px;overflow:hidden"><span id="tz1" class="tx" style="position:absolute;left:0;top:26.3px;font-size:28px;line-height:28px;font-weight:700;color:#000;white-space:nowrap">Azienda</span></div>
<div class="a" style="left:790px;top:1510px;width:2360px;height:2px;background:#d8d8d8;"></div>
<span id="t66" class="a tx" style="left:821.0px;top:1595.5px;font-size:29px;line-height:29px;font-weight:400;color:#000;transform:scaleX(1.0494);">45904</span>
<div class="a" style="left:2130px;top:1572px;width:128px;height:71px;border-radius:36px;background:#efe3da"></div>
<span id="t67" class="a tx" style="left:2146.0px;top:1595.5px;font-size:29px;line-height:29px;font-weight:400;color:#3a4aa8;transform:scaleX(1.0211);">Inserita</span>
<span id="t68" class="a tx" style="left:2320.0px;top:1620.5px;font-size:29px;line-height:29px;font-weight:400;color:#111;transform:scaleX(1.0407);">04T16:56:51.44Z</span>
<span id="t69" class="a tx" style="left:2629.0px;top:1620.5px;font-size:29px;line-height:29px;font-weight:400;color:#111;transform:scaleX(1.0308);">2026</span>
<span id="t70" class="a tx" style="left:2702.0px;top:1578.7px;font-size:24px;line-height:24px;font-weight:400;color:#111;transform:scaleX(0.8571);">2-</span>
<div class="a" style="left:3086px;top:1640px;width:64px;height:20px;overflow:hidden"><span id="tz2" class="tx" style="position:absolute;left:2px;top:6px;font-size:27px;line-height:27px;color:#111;white-space:nowrap">UNIDEA</span></div>
<div class="a" style="left:1027px;top:1567px;width:20px;height:20px;background:#efefef;"></div>
<div class="a" style="left:1067px;top:1567px;width:20px;height:20px;background:#f4f4f4;"></div>
<div class="a" style="left:1087px;top:1567px;width:20px;height:20px;background:#d4d4d4;"></div>
<div class="a" style="left:1127px;top:1567px;width:20px;height:20px;background:#efefef;"></div>
<div class="a" style="left:1147px;top:1567px;width:20px;height:20px;background:#d8d8d8;"></div>
<div class="a" style="left:1187px;top:1567px;width:20px;height:20px;background:#f2f2f2;"></div>
<div class="a" style="left:1207px;top:1567px;width:20px;height:20px;background:#e4e4e4;"></div>
<div class="a" style="left:1227px;top:1567px;width:20px;height:20px;background:#e3e3e3;"></div>
<div class="a" style="left:1247px;top:1567px;width:20px;height:20px;background:#cdcdcd;"></div>
<div class="a" style="left:1267px;top:1567px;width:20px;height:20px;background:#e7e7e7;"></div>
<div class="a" style="left:1287px;top:1567px;width:20px;height:20px;background:#2b2b2b;"></div>
<div class="a" style="left:1027px;top:1587px;width:20px;height:20px;background:#4a4a4a;"></div>
<div class="a" style="left:1047px;top:1587px;width:20px;height:20px;background:#b5b5b5;"></div>
<div class="a" style="left:1087px;top:1587px;width:20px;height:20px;background:#d5d5d5;"></div>
<div class="a" style="left:1107px;top:1587px;width:20px;height:20px;background:#d8d8d8;"></div>
<div class="a" style="left:1127px;top:1587px;width:20px;height:20px;background:#686868;"></div>
<div class="a" style="left:1167px;top:1587px;width:20px;height:20px;background:#cfcfcf;"></div>
<div class="a" style="left:1187px;top:1587px;width:20px;height:20px;background:#fafafa;"></div>
<div class="a" style="left:1227px;top:1587px;width:20px;height:20px;background:#bdbdbd;"></div>
<div class="a" style="left:1247px;top:1587px;width:20px;height:20px;background:#707070;"></div>
<div class="a" style="left:1267px;top:1587px;width:20px;height:20px;background:#4a4a4a;"></div>
<div class="a" style="left:1027px;top:1627px;width:20px;height:20px;background:#d7d7d7;"></div>
<div class="a" style="left:1047px;top:1627px;width:20px;height:20px;background:#f8f8f8;"></div>
<div class="a" style="left:1087px;top:1627px;width:20px;height:20px;background:#9b9b9b;"></div>
<div class="a" style="left:1107px;top:1627px;width:20px;height:20px;background:#e4e4e4;"></div>
<div class="a" style="left:1127px;top:1627px;width:20px;height:20px;background:#8a8a8a;"></div>
<div class="a" style="left:1167px;top:1627px;width:20px;height:20px;background:#b1b1b1;"></div>
<div class="a" style="left:1187px;top:1627px;width:20px;height:20px;background:#cbcbcb;"></div>
<div class="a" style="left:1227px;top:1627px;width:20px;height:20px;background:#f5f5f5;"></div>
<div class="a" style="left:1407px;top:1587px;width:20px;height:20px;background:#cdcdcd;"></div>
<div class="a" style="left:1427px;top:1587px;width:20px;height:20px;background:#ededed;"></div>
<div class="a" style="left:1487px;top:1587px;width:20px;height:20px;background:#f0f0f0;"></div>
<div class="a" style="left:1507px;top:1587px;width:20px;height:20px;background:#f5f5f5;"></div>
<div class="a" style="left:1547px;top:1587px;width:20px;height:20px;background:#efefef;"></div>
<div class="a" style="left:1567px;top:1587px;width:20px;height:20px;background:#f6f6f6;"></div>
<div class="a" style="left:1587px;top:1587px;width:20px;height:20px;background:#bababa;"></div>
<div class="a" style="left:1607px;top:1587px;width:20px;height:20px;background:#ebebeb;"></div>
<div class="a" style="left:1627px;top:1587px;width:20px;height:20px;background:#f6f6f6;"></div>
<div class="a" style="left:1647px;top:1587px;width:20px;height:20px;background:#d9d9d9;"></div>
<div class="a" style="left:1667px;top:1587px;width:20px;height:20px;background:#ececec;"></div>
<div class="a" style="left:1387px;top:1607px;width:20px;height:20px;background:#dcdcdc;"></div>
<div class="a" style="left:1407px;top:1607px;width:20px;height:20px;background:#ececec;"></div>
<div class="a" style="left:1467px;top:1607px;width:20px;height:20px;background:#b3b3b3;"></div>
<div class="a" style="left:1527px;top:1607px;width:20px;height:20px;background:#fcfcfc;"></div>
<div class="a" style="left:1667px;top:1607px;width:20px;height:20px;background:#939393;"></div>
<div class="a" style="left:1747px;top:1587px;width:20px;height:20px;background:#f7f7f7;"></div>
<div class="a" style="left:1767px;top:1587px;width:20px;height:20px;background:#f3f3f3;"></div>
<div class="a" style="left:1787px;top:1587px;width:20px;height:20px;background:#ececec;"></div>
<div class="a" style="left:1807px;top:1587px;width:20px;height:20px;background:#fafafa;"></div>
<div class="a" style="left:1847px;top:1587px;width:20px;height:20px;background:#f8f8f8;"></div>
<div class="a" style="left:1887px;top:1587px;width:20px;height:20px;background:#bcbcbc;"></div>
<div class="a" style="left:1907px;top:1587px;width:20px;height:20px;background:#e5e5e5;"></div>
<div class="a" style="left:1947px;top:1587px;width:20px;height:20px;background:#dcdcdc;"></div>
<div class="a" style="left:1967px;top:1587px;width:20px;height:20px;background:#f2f2f2;"></div>
<div class="a" style="left:2007px;top:1587px;width:20px;height:20px;background:#c3c3c3;"></div>
<div class="a" style="left:2027px;top:1587px;width:20px;height:20px;background:#ececec;"></div>
<div class="a" style="left:2047px;top:1587px;width:20px;height:20px;background:#f8f8f8;"></div>
<div class="a" style="left:1767px;top:1607px;width:20px;height:20px;background:#e3e3e3;"></div>
<div class="a" style="left:1787px;top:1607px;width:20px;height:20px;background:#2a2a2a;"></div>
<div class="a" style="left:1827px;top:1607px;width:20px;height:20px;background:#a9a9a9;"></div>
<div class="a" style="left:1867px;top:1607px;width:20px;height:20px;background:#0f0f0f;"></div>
<div class="a" style="left:1887px;top:1607px;width:20px;height:20px;background:#9d9d9d;"></div>
<div class="a" style="left:1907px;top:1607px;width:20px;height:20px;background:#e4e4e4;"></div>
<div class="a" style="left:1927px;top:1607px;width:20px;height:20px;background:#c0c0c0;"></div>
<div class="a" style="left:1947px;top:1607px;width:20px;height:20px;background:#eeeeee;"></div>
<div class="a" style="left:1967px;top:1607px;width:20px;height:20px;background:#b6b6b6;"></div>
<div class="a" style="left:2007px;top:1607px;width:20px;height:20px;background:#ebebeb;"></div>
<div class="a" style="left:2027px;top:1607px;width:20px;height:20px;background:#2d2d2d;"></div>
<div class="a" style="left:2327px;top:1567px;width:20px;height:20px;background:#dddddd;"></div>
<div class="a" style="left:2347px;top:1567px;width:20px;height:20px;background:#e6e6e6;"></div>
<div class="a" style="left:2627px;top:1567px;width:20px;height:20px;background:#9f9f9f;"></div>
<div class="a" style="left:2647px;top:1567px;width:20px;height:20px;background:#f6f6f6;"></div>
<div class="a" style="left:2667px;top:1567px;width:20px;height:20px;background:#9e9e9e;"></div>
<div class="a" style="left:2687px;top:1567px;width:20px;height:20px;background:#bdbdbd;"></div>
<div class="a" style="left:2347px;top:1587px;width:20px;height:20px;background:#a5a5a5;"></div>
<div class="a" style="left:2367px;top:1587px;width:20px;height:20px;background:#e8e8e8;"></div>
<div class="a" style="left:2627px;top:1587px;width:20px;height:20px;background:#5e5e5e;"></div>
<div class="a" style="left:2647px;top:1587px;width:20px;height:20px;background:#4d4d4d;"></div>
<div class="a" style="left:2667px;top:1587px;width:20px;height:20px;background:#eeeeee;"></div>
<div class="a" style="left:2687px;top:1587px;width:20px;height:20px;background:#686868;"></div>
<div class="a" style="left:2867px;top:1587px;width:20px;height:20px;background:#ebebeb;"></div>
<div class="a" style="left:2787px;top:1607px;width:20px;height:20px;background:#adadad;"></div>
<div class="a" style="left:2867px;top:1607px;width:20px;height:20px;background:#2b2b2b;"></div>
<div class="a" style="left:2887px;top:1607px;width:20px;height:20px;background:#3a3a3a;"></div>
<div class="a" style="left:2907px;top:1607px;width:20px;height:20px;background:#a9a9a9;"></div>
<div class="a" style="left:3107px;top:1547px;width:20px;height:20px;background:#f9f9f9;"></div>
<div class="a" style="left:3127px;top:1547px;width:20px;height:20px;background:#ebebeb;"></div>
<div class="a" style="left:3087px;top:1587px;width:20px;height:20px;background:#bdbdbd;"></div>
<div class="a" style="left:3107px;top:1587px;width:20px;height:20px;background:#ececec;"></div>
<div class="a" style="left:3087px;top:1607px;width:20px;height:20px;background:#e0e0e0;"></div>
<div class="a" style="left:3127px;top:1607px;width:20px;height:20px;background:#4b4b4b;"></div>
<div class="a" style="left:710px;top:1660px;width:2448px;height:34px;background:#f3f3f3;"></div>
<div class="a" style="left:716px;top:1666px;width:2428px;height:22px;background:#e8e8e8;border-radius:11px;"></div>
<div class="a" style="left:716px;top:1666px;width:1823px;height:22px;background:#767676;border-radius:11px;"></div>
<div class="a" style="left:3150px;top:1366px;width:8px;height:329px;background:#f3f3f3;"></div>
<div class="a" style="left:750px;top:1712px;width:295px;height:66px;background:#1b264f;border-radius:7px;"></div>
<svg class="a" style="left:795px;top:1731px" width="16" height="28" viewBox="0 0 16 28"><rect x="5.6" y="0" width="4.8" height="6" fill="#fff"/><path d="M1 6 L15 6 L8 13 Z" fill="#fff"/><rect x="1.5" y="15.5" width="13" height="9" fill="none" stroke="#fff" stroke-width="2"/><rect x="5" y="25" width="6" height="2.2" fill="#fff"/></svg>
<span id="t71" class="a tx" style="left:826.0px;top:1731.6px;font-size:30px;line-height:30px;font-weight:700;color:#fff;transform:scaleX(0.9091);">Esporta XLSX</span>
<div class="a" style="left:1053px;top:1712px;width:322px;height:66px;background:#1b264f;border-radius:7px;"></div>
<svg class="a" style="left:1097px;top:1731px" width="16" height="28" viewBox="0 0 16 28"><rect x="5.6" y="0" width="4.8" height="6" fill="#fff"/><path d="M1 6 L15 6 L8 13 Z" fill="#fff"/><rect x="1.5" y="15.5" width="13" height="9" fill="none" stroke="#fff" stroke-width="2"/><rect x="5" y="25" width="6" height="2.2" fill="#fff"/></svg>
<span id="t72" class="a tx" style="left:1129.0px;top:1731.6px;font-size:30px;line-height:30px;font-weight:700;color:#fff;transform:scaleX(0.9075);">Esporta per CBI</span>
<div class="a" style="left:2547px;top:1712px;width:597px;height:66px;background:#0e8150;border-radius:7px;"></div>
<span id="t73" class="a tx" style="left:2586.0px;top:1731.6px;font-size:30px;line-height:30px;font-weight:700;color:#fff;transform:scaleX(0.9143);">Conferma</span>
<span id="t74" class="a tx" style="left:2724.0px;top:1731.6px;font-size:30px;line-height:30px;font-weight:700;color:#fff;transform:scaleX(0.9500);">P</span>
<div class="a" style="left:2767px;top:1727px;width:20px;height:20px;background:#a7c4b2;"></div>
<div class="a" style="left:2907px;top:1727px;width:20px;height:20px;background:#5f9e7e;"></div>
<div class="a" style="left:3047px;top:1727px;width:20px;height:20px;background:#6a9e80;"></div>
<div class="a" style="left:2733px;top:1727px;width:14px;height:20px;background:#2f8055;"></div>
<div class="a" style="left:2733px;top:1747px;width:14px;height:20px;background:#4a9270;"></div>
<div class="a" style="left:2747px;top:1747px;width:20px;height:20px;background:#fdfdfd;"></div>
<div class="a" style="left:2767px;top:1747px;width:20px;height:20px;background:#f8f9f8;"></div>
<div class="a" style="left:2787px;top:1747px;width:20px;height:20px;background:#b9d1c3;"></div>
<div class="a" style="left:2807px;top:1747px;width:20px;height:20px;background:#c8d9ce;"></div>
<div class="a" style="left:2827px;top:1747px;width:20px;height:20px;background:#c8d9ce;"></div>
<div class="a" style="left:2887px;top:1747px;width:20px;height:20px;background:#cedfd5;"></div>
<div class="a" style="left:2907px;top:1747px;width:20px;height:20px;background:#bad2c4;"></div>
<div class="a" style="left:2927px;top:1747px;width:20px;height:20px;background:#dce7e0;"></div>
<div class="a" style="left:2947px;top:1747px;width:20px;height:20px;background:#c8d9ce;"></div>
<div class="a" style="left:2987px;top:1747px;width:20px;height:20px;background:#6aa583;"></div>
<div class="a" style="left:3007px;top:1747px;width:20px;height:20px;background:#f0f5f2;"></div>
<div class="a" style="left:3027px;top:1747px;width:20px;height:20px;background:#e6eee9;"></div>
<div class="a" style="left:3067px;top:1747px;width:20px;height:20px;background:#549170;"></div>
<div class="a" style="left:3087px;top:1747px;width:20px;height:20px;background:#fafbfa;"></div>
<svg class="a" style="left:0px;top:1772px" width="9" height="12" viewBox="0 0 9 12"><path d="M0 0.5 L7.5 8.5 L7.5 12 L0 12 Z" fill="#0b2a4c" stroke="#4a5b6b" stroke-width="1.4"/></svg>
<div class="a" style="left:0px;top:0px;width:2px;height:1784px;background:rgba(128,128,128,0.5);"></div>
<div class="a" style="left:3158px;top:0px;width:2px;height:1784px;background:rgba(128,128,128,0.55);"></div>
<div class="a" style="left:628px;top:1782px;width:2532px;height:2px;background:#bbbbbb;"></div>
</body></html>
